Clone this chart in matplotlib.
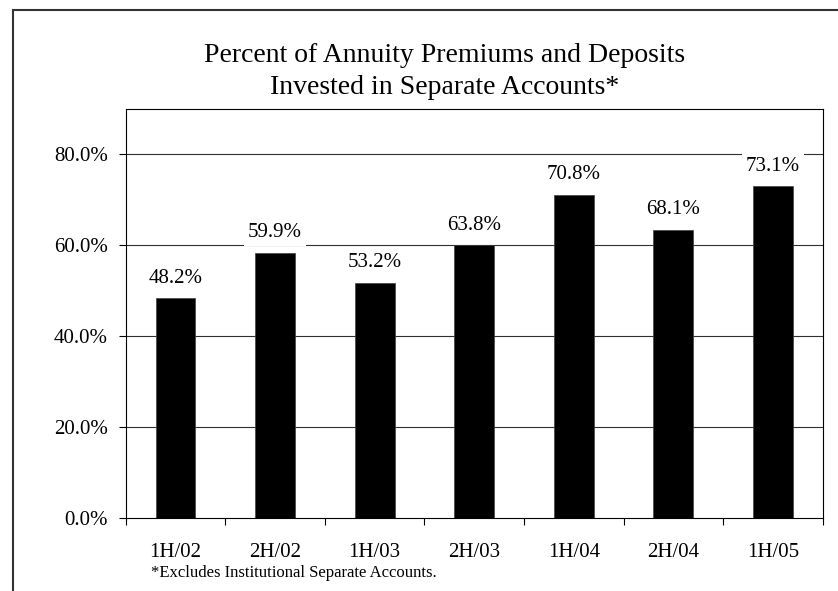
import matplotlib
matplotlib.use("Agg")
import matplotlib.pyplot as plt
from matplotlib.lines import Line2D

plt.rcParams['font.family'] = ['Liberation Serif', 'DejaVu Serif']

categories = ['1H/02', '2H/02', '1H/03', '2H/03', '1H/04', '2H/04', '1H/05']
bar_values = [48.4, 58.4, 51.8, 60.0, 71.1, 63.4, 73.0]
value_labels = ['48.2%', '59.9%', '53.2%', '63.8%', '70.8%', '68.1%', '73.1%']
yticks = [0, 20, 40, 60, 80]
ytick_labels = ['0.0%', '20.0%', '40.0%', '60.0%', '80.0%']
title_lines = ['Percent of Annuity Premiums and Deposits', 'Invested in Separate Accounts*']
footnote = '*Excludes Institutional Separate Accounts.'

W, H = 838, 591
fig = plt.figure(figsize=(W / 100, H / 100), dpi=100)
fig.patch.set_facecolor('white')

# outer frame (top and left edges visible)
fig.add_artist(Line2D([13 / W, 1.0], [1 - 10 / H, 1 - 10 / H], color='#333333', lw=1.5))
fig.add_artist(Line2D([13 / W, 13 / W], [0.0, 1 - 10 / H], color='#333333', lw=1.5))

left, right, top, bottom = 125.7, 822.7, 109, 518.3
ax = fig.add_axes([left / W, 1 - bottom / H, (right - left) / W, (bottom - top) / H])

x = list(range(len(categories)))
ax.set_xlim(-0.5, len(categories) - 0.5)
ax.set_ylim(0, 90)

for y in yticks[1:]:
    ax.axhline(y, color='#303030', lw=0.8, zorder=1)

ax.bar(x, bar_values, width=0.4, color='black', edgecolor='#404040', linewidth=0.5, zorder=2)

for xi, v, lab in zip(x, bar_values, value_labels):
    ax.annotate(lab, (xi, v), xytext=(0, 14.5), textcoords='offset points',
                ha='center', va='center', fontsize=15, zorder=3,
                bbox=dict(boxstyle='square,pad=0.2', facecolor='white', edgecolor='none'))

ax.set_yticks(yticks)
ax.set_yticklabels(ytick_labels, fontsize=15)
ax.tick_params(axis='y', direction='out', length=5, width=0.8, pad=8)

# category boundary ticks
ax.set_xticks([i - 0.5 for i in range(len(categories) + 1)])
ax.set_xticklabels([])
ax.tick_params(axis='x', direction='out', length=5, width=0.8)
for xi, c in zip(x, categories):
    ax.text(xi, -0.083, c, transform=ax.get_xaxis_transform(), ha='center', va='center', fontsize=15)

for s in ax.spines.values():
    s.set_color('black')
    s.set_linewidth(0.8)

fig.text(445 / W, 1 - 62 / H, title_lines[0], ha='center', va='baseline', fontsize=20)
fig.text(445 / W, 1 - 94 / H, title_lines[1], ha='center', va='baseline', fontsize=20)
fig.text(150.7 / W, 1 - 573 / H, footnote, ha='left', va='center', fontsize=12)

fig.savefig('out.png', dpi=100)
